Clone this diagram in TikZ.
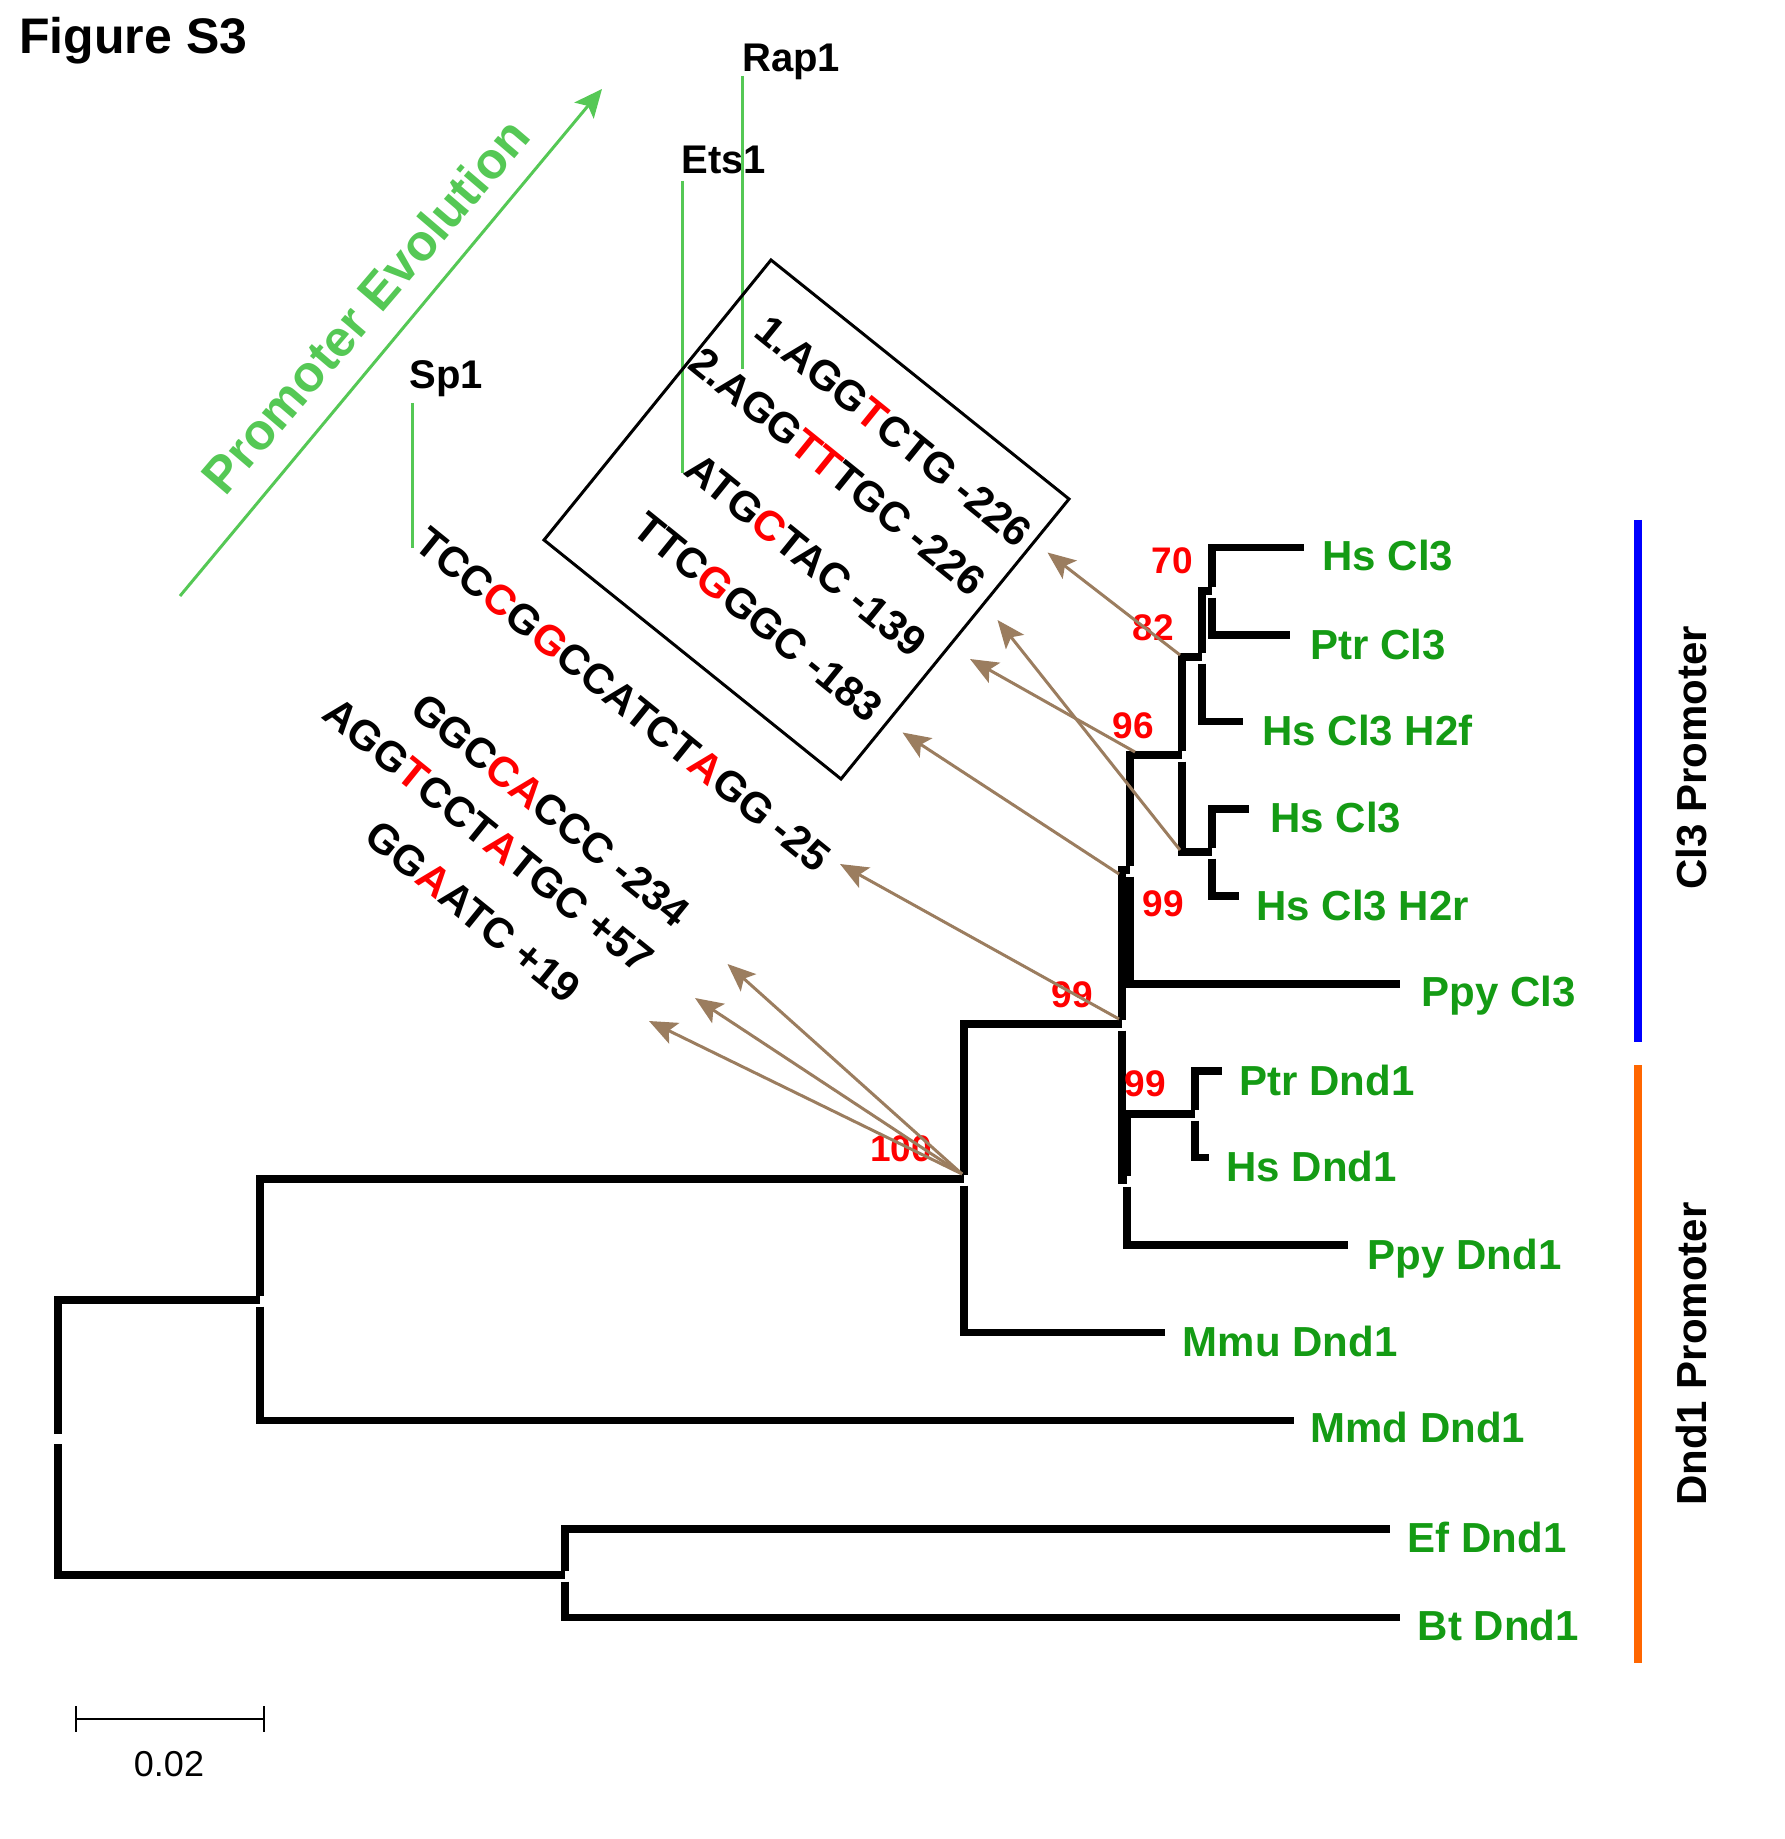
\documentclass[tikz,border=0pt]{standalone}
\usepackage{fontspec}
\setmainfont{Liberation Sans}
\usetikzlibrary{arrows.meta}
\definecolor{pgreen}{RGB}{85,200,85}
\definecolor{lgreen}{RGB}{20,155,20}
\definecolor{brn}{RGB}{155,125,95}
\definecolor{orng}{RGB}{255,102,0}
\begin{document}
\begin{tikzpicture}[x=0.5pt,y=-0.5pt,
  branch/.style={line width=3.75pt,line join=miter},
  leaf/.style={font=\fontsize{21}{21}\selectfont\bfseries,text=lgreen,inner sep=0pt,anchor=base west},
  boot/.style={font=\fontsize{18.5}{18.5}\selectfont\bfseries,text=red,inner sep=0pt},
  seq/.style={font=\fontsize{21}{21}\selectfont\bfseries,inner sep=0pt,anchor=base west,rotate=-39},
  tfl/.style={font=\fontsize{20}{20}\selectfont\bfseries,inner sep=0pt,anchor=base west},
  tfline/.style={draw=pgreen,line width=1.5pt},
  brarrow/.style={draw=brn,line width=1.5pt,-{Stealth[length=14pt,width=11.5pt,inset=3pt]}},
  grp/.style={font=\fontsize{21}{21}\selectfont\bfseries,inner sep=0pt,rotate=90},
  up/.style={yshift=2pt},
  dn/.style={yshift=-3.25pt}
]
\useasboundingbox (0,0) rectangle (1784,1839);

% title
\node[font=\fontsize{25}{25}\selectfont\bfseries,inner sep=0pt,anchor=base west] (title) at (19,54) {Figure S3};

% promoter evolution arrow
\coordinate (evs) at (180,596);
\coordinate (eve) at (602,89);
\draw[draw=pgreen,line width=1.5pt,-{Stealth[length=14pt,width=12.5pt,inset=3pt]}] (evs) -- (eve);
\node[font=\fontsize{25.5}{25.5}\selectfont\bfseries,text=pgreen,rotate=49.5,inner sep=0pt] (evo) at (365,306) {Promoter Evolution};

% transcription factor labels
\node[tfl] (rap) at (742,71.5) {Rap1};
\node[tfl] (ets) at (681,174) {Ets1};
\node[tfl] (sp) at (409,389) {Sp1};
\coordinate (rapT) at (742,76);   \coordinate (rapB) at (742,369);
\coordinate (etsT) at (682,181);  \coordinate (etsB) at (682,473);
\coordinate (spT) at (412,403);   \coordinate (spB) at (412,548);
\draw[tfline] (rapT) -- (rapB);
\draw[tfline] (etsT) -- (etsB);
\draw[tfline] (spT) -- (spB);

% box
\coordinate (bxT) at (771,260);
\coordinate (bxR) at (1069,499);
\coordinate (bxB) at (841,779);
\coordinate (bxL) at (544,540);
\draw[line width=1.5pt] (bxT) -- (bxR) -- (bxB) -- (bxL) -- cycle;

% sequences
\node[seq] (s1) at (752,335) {1.AGG\textcolor{red}{T}CTG -226};
\node[seq] (s2) at (686,367) {2.AGG\textcolor{red}{TT}TGC -226};
\node[seq] (s3) at (682,473.5) {ATG\textcolor{red}{C}TAC -139};
\node[seq] (s4) at (630,532) {TTC\textcolor{red}{G}GGC -183};
\node[seq] (s5) at (412,547) {TCC\textcolor{red}{C}G\textcolor{red}{G}CCATCT\textcolor{red}{A}GG -25};
\node[seq] (s6) at (408,713) {GGC\textcolor{red}{CA}CCC -234};
\node[seq] (s7) at (320,717.5) {AGG\textcolor{red}{T}CCT\textcolor{red}{A}TGC +57};
\node[seq] (s8) at (362,840.5) {GG\textcolor{red}{A}ATC +19};

% tree internal nodes
\coordinate (R) at (58,1437.5);
\coordinate (P1) at (260,1300);
\coordinate (P2) at (565,1575);
\coordinate (Q) at (964,1179);
\coordinate (A) at (1122,1024);
\coordinate (B) at (1130,870);
\coordinate (G) at (1127,1180);
\coordinate (C) at (1182,755);
\coordinate (E) at (1202,657);
\coordinate (D) at (1212,591);
\coordinate (F) at (1212,852);
\coordinate (H) at (1195,1114);
% leaves
\coordinate (lHs1) at (1303.5,547.5);
\coordinate (lPtr) at (1290,635);
\coordinate (lH2f) at (1243,721.5);
\coordinate (lHs2) at (1249,809);
\coordinate (lH2r) at (1239,896);
\coordinate (lPpyC) at (1400,984);
\coordinate (lPtrD) at (1222,1071);
\coordinate (lHsD) at (1209,1157.5);
\coordinate (lPpyD) at (1347.5,1245);
\coordinate (lMmu) at (1165,1332.5);
\coordinate (lMmd) at (1293.5,1420.5);
\coordinate (lEf) at (1390,1529);
\coordinate (lBt) at (1400,1617.5);

\draw[branch] ([up]R) |- (P1);   \draw[branch] ([dn]R) |- (P2);
\draw[branch] ([up]P1) |- (Q);   \draw[branch] ([dn]P1) |- (lMmd);
\draw[branch] ([up]P2) |- (lEf); \draw[branch] ([dn]P2) |- (lBt);
\draw[branch] ([up]Q) |- (A);    \draw[branch] ([dn]Q) |- (lMmu);
\draw[branch] ([up]A) |- (B);    \draw[branch] ([dn]A) |- (G);
\draw[branch] ([up]B) |- (C);    \draw[branch] ([dn]B) |- (lPpyC);
\draw[branch] ([up]C) |- (E);    \draw[branch] ([dn]C) |- (F);
\draw[branch] ([up]E) |- (D);    \draw[branch] ([dn]E) |- (lH2f);
\draw[branch] ([up]D) |- (lHs1); \draw[branch] ([dn]D) |- (lPtr);
\draw[branch] ([up]F) |- (lHs2); \draw[branch] ([dn]F) |- (lH2r);
\draw[branch] ([up]G) |- (H);    \draw[branch] ([dn]G) |- (lPpyD);
\draw[branch] ([up]H) |- (lPtrD);\draw[branch] ([dn]H) |- (lHsD);

% leaf labels
\node[leaf] (tHs1) at (1322,570) {Hs Cl3};
\node[leaf] (tPtr) at (1310,659) {Ptr Cl3};
\node[leaf] (tH2f) at (1262,745) {Hs Cl3 H2f};
\node[leaf] (tHs2) at (1270,832.5) {Hs Cl3};
\node[leaf] (tH2r) at (1256,920) {Hs Cl3 H2r};
\node[leaf] (tPpyC) at (1421,1006) {Ppy Cl3};
\node[leaf] (tPtrD) at (1239,1095) {Ptr Dnd1};
\node[leaf] (tHsD) at (1226,1181) {Hs Dnd1};
\node[leaf] (tPpyD) at (1367.5,1269) {Ppy Dnd1};
\node[leaf] (tMmu) at (1182.5,1356) {Mmu Dnd1};
\node[leaf] (tMmd) at (1310,1442.5) {Mmd Dnd1};
\node[leaf] (tEf) at (1407.5,1552.5) {Ef Dnd1};
\node[leaf] (tBt) at (1417.5,1640) {Bt Dnd1};

% bootstrap values
\node[boot] (b70) at (1172,561) {70};
\node[boot] (b82) at (1153,628) {82};
\node[boot] (b96) at (1133,726) {96};
\node[boot] (b99b) at (1163,904) {99};
\node[boot] (b99a) at (1072,995) {99};
\node[boot] (b99g) at (1145,1084) {99};
\node[boot] (b100) at (901,1149) {100};

% brown arrows
\coordinate (a1s) at (1180,655);  \coordinate (t1) at (1047.5,552.5);
\coordinate (a2s) at (1135,752);  \coordinate (t2) at (970,659);
\coordinate (a3s) at (1180,850);  \coordinate (t3) at (997.5,620);
\coordinate (a4s) at (1119,874);  \coordinate (t4) at (902.5,732.5);
\coordinate (a5s) at (1119,1019); \coordinate (t5) at (840,864);
\coordinate (a6s) at (962,1174);
\coordinate (t6) at (727.5,964);
\coordinate (t7) at (695,998);
\coordinate (t8) at (649,1021);
\draw[brarrow] (a1s) -- (t1);
\draw[brarrow] (a2s) -- (t2);
\draw[brarrow] (a3s) -- (t3);
\draw[brarrow] (a4s) -- (t4);
\draw[brarrow] (a5s) -- (t5);
\draw[brarrow] (a6s) -- (t6);
\draw[brarrow] (a6s) -- (t7);
\draw[brarrow] (a6s) -- (t8);

% group bars
\coordinate (blT) at (1638,520);  \coordinate (blB) at (1638,1041.5);
\coordinate (orT) at (1638,1065); \coordinate (orB) at (1638,1663);
\draw[draw=blue,line width=4pt] (blT) -- (blB);
\draw[draw=orng,line width=4pt] (orT) -- (orB);
\node[grp] (cl3p) at (1691,757.5) {Cl3 Promoter};
\node[grp] (dndp) at (1691,1354) {Dnd1 Promoter};

% scale bar
\coordinate (sbL) at (76,1719);
\coordinate (sbR) at (264,1719);
\draw[line width=1pt] (sbL) -- (sbR);
\draw[line width=1pt] ([yshift=6.5pt]sbL) -- ([yshift=-6.5pt]sbL);
\draw[line width=1pt] ([yshift=6.5pt]sbR) -- ([yshift=-6.5pt]sbR);
\node[font=\fontsize{18}{18}\selectfont,inner sep=0pt,anchor=base] (sbt) at (169,1776.5) {0.02};
\end{tikzpicture}
\end{document}
